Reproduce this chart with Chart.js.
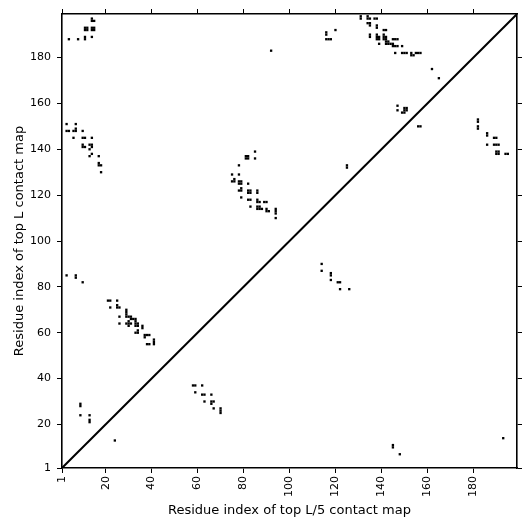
<!DOCTYPE html>
<html><head><meta charset="utf-8">
<script src="https://cdn.jsdelivr.net/npm/chart.js@4.4.0/dist/chart.umd.min.js"></script>
<style>html,body{margin:0;padding:0;background:#fff}</style>
</head><body>
<canvas id="c" width="531" height="531"></canvas>
<script>
const axisMin = 1, axisMax = 199;
const tickValues = [1, 20, 40, 60, 80, 100, 120, 140, 160, 180];
const xTitle = 'Residue index of top L/5 contact map';
const yTitle = 'Residue index of top L contact map';

// upper triangle: top L contact map
const upperX = [
  14,14,15, 11,12,11,12, 14,15,14,15, 4, 8, 11,11, 14,
  3,7, 3,4,6,7,7,10, 6,10,11,14, 10,10,11,13,14,13,14, 13,14,17, 17,17,18, 18,
  85, 81,82,81,82, 85, 78, 75,78, 75,76,76, 78,79,78,79, 82, 78,79,79, 82,83,82,83, 86,86, 79, 82,83, 86,87,86, 89,90, 83, 86,87,86,87,88, 90,91,90, 94,94,94, 94,
  125,125, 92,
  131,131, 134,135,134, 137,138, 116,116, 120, 116,117,118, 134,135,135, 138,138, 141,142, 135,135,
  138,139,138,139,138, 141,142,141,142,141, 145,146,147, 139, 142,143,144,142,143, 145,146,147,145, 149,
  146, 149,150,151, 153,154,153, 155,156,157, 162, 165,
  147,147, 149,150,150,151,151,150, 156,157, 182,182, 182,182, 186,186, 189,190, 186, 189,190,191, 190,191,190,191, 194,195
];
const upperY = [
  197,196,196, 192,192,193,193, 192,192,193,193, 188, 188, 188,189, 189,
  151,151, 148,148,148,148,149,148, 145,145,145,145, 141,142,141,142,142,140,141, 137,138,137, 133,134,133, 130,
  139, 136,136,137,137, 136, 133, 129,129, 126,126,127, 125,125,126,126, 125, 122,122,123, 121,121,122,122, 121,122, 119, 118,118, 117,117,118, 117,117, 115, 114,114,115,115,114, 113,113,114, 112,113,114, 110,
  132,133, 183,
  197,198, 197,197,198, 197,197, 190,191, 192, 188,188,188, 195,195,194, 193,194, 192,192, 189,190,
  188,188,189,189,190, 188,188,189,189,190, 188,188,188, 186, 186,186,186,187,187, 185,185,185,186, 185,
  182, 182,182,182, 181,181,182, 182,182,182, 175, 171,
  159,157, 156,156,157,157,158,158, 150,150, 152,153, 149,150, 146,147, 145,145, 142, 142,142,142, 138,138,139,139, 138,138
];

// lower triangle: top L/5 contact map
const lowerX = [
  3, 7,7, 10,
  21,22, 25, 22, 25,26,25, 29,29, 26, 29,30,31,29, 31,32,33,33, 26, 30,30,30,31,29, 33,34,33,34, 36,36,
  33,34,34, 37,38,39,37, 38,39, 41,41,41,
  58,59,62, 59, 62,63,66, 63, 66,67,66, 67, 70,70,70,
  114,114,118,118,118,121,122,122,126,
  9,9, 9, 13,13,13, 24,
  145,145, 148, 193
];
const lowerY = [
  85, 84,85, 82,
  74,74, 74, 71, 71,71,72, 69,70, 67, 67,67,67,68, 66,66,66,65, 64, 63,64,65,64,64, 63,63,64,64, 62,63,
  60,60,61, 59,59,59,58, 55,55, 55,56,57,
  37,37,37, 34, 33,33,33, 30, 30,30,29, 27, 25,26,27,
  90,87,85,86,83,82,82,79,79,
  28,29, 24, 24,21,22, 13,
  10,11, 7, 14
];

const diagX = [axisMin, axisMax];
const diagY = [axisMin, axisMax];

const pts = (xs, ys) => xs.map((v, i) => ({x: v, y: ys[i]}));
const setTicks = s => { s.ticks = tickValues.map(v => ({value: v})); };

Chart.defaults.font.family = '"DejaVu Sans", sans-serif';
Chart.defaults.color = '#000';

const tickFont = {size: 11};
const titleFont = {size: 13};
const gridCfg = {drawOnChartArea: false, drawTicks: true, tickLength: 5, color: '#000', tickWidth: 1};
const borderCfg = {display: true, color: '#000', width: 1.6};

new Chart(document.getElementById('c'), {
  type: 'scatter',
  data: {
    datasets: [
      {label: 'top L', data: pts(upperX, upperY), pointStyle: 'rect', pointRadius: 1.65, borderWidth: 0, backgroundColor: '#000'},
      {label: 'top L/5', data: pts(lowerX, lowerY), pointStyle: 'rect', pointRadius: 1.65, borderWidth: 0, backgroundColor: '#000'},
      {label: 'diagonal', type: 'line', data: pts(diagX, diagY), borderColor: '#000', borderWidth: 2, pointRadius: 0, fill: false}
    ]
  },
  options: {
    responsive: false,
    animation: false,
    devicePixelRatio: 1,
    events: [],
    layout: {padding: 0},
    plugins: {legend: {display: false}, tooltip: {enabled: false}},
    scales: {
      x: {
        type: 'linear', position: 'bottom', min: axisMin, max: axisMax,
        afterBuildTicks: setTicks,
        afterFit: s => { s.height = 63; },
        ticks: {font: tickFont, minRotation: 90, maxRotation: 90, autoSkip: false, padding: 3},
        grid: gridCfg, border: borderCfg,
        title: {display: true, text: xTitle, font: titleFont, padding: {top: 0, bottom: 13}}
      },
      x2: {
        type: 'linear', position: 'top', min: axisMin, max: axisMax,
        afterBuildTicks: setTicks,
        afterFit: s => { s.height = 14; },
        ticks: {display: false},
        grid: gridCfg, border: borderCfg
      },
      y: {
        type: 'linear', position: 'left', min: axisMin, max: axisMax,
        afterBuildTicks: setTicks,
        afterFit: s => { s.width = 62; },
        ticks: {font: tickFont, autoSkip: false, padding: 6},
        grid: gridCfg, border: borderCfg,
        title: {display: true, text: yTitle, font: titleFont, padding: {top: 12, bottom: 0}}
      },
      y2: {
        type: 'linear', position: 'right', min: axisMin, max: axisMax,
        afterBuildTicks: setTicks,
        afterFit: s => { s.width = 14; },
        ticks: {display: false},
        grid: gridCfg, border: borderCfg
      }
    }
  }
});
</script>
</body></html>
